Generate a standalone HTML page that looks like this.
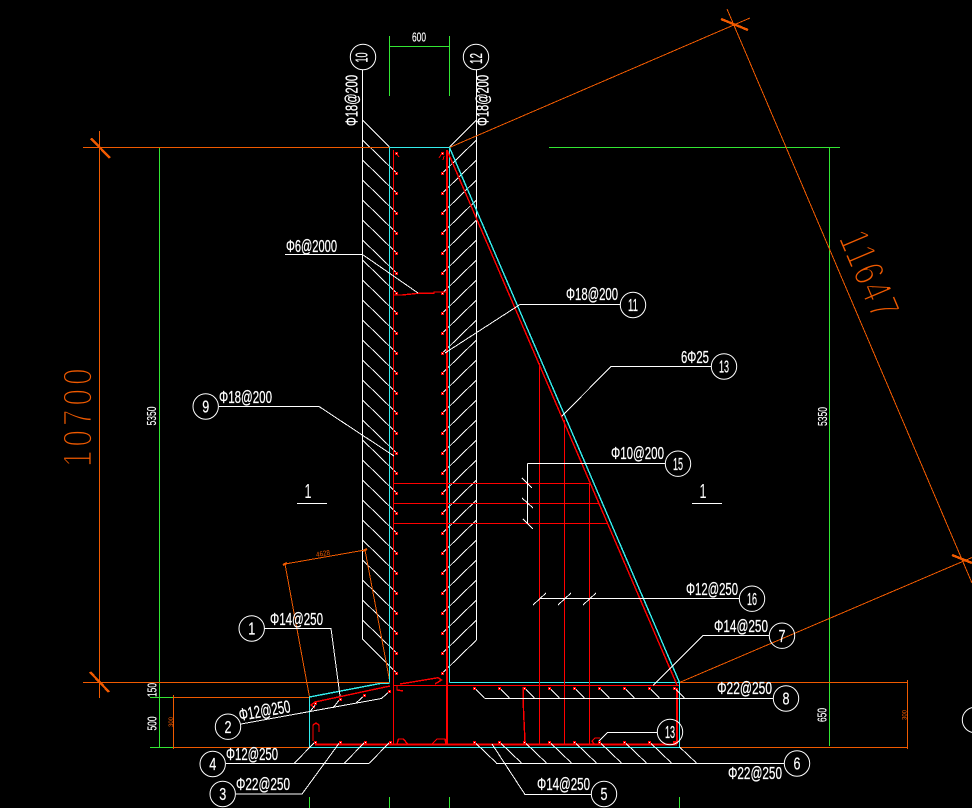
<!DOCTYPE html>
<html><head><meta charset="utf-8">
<style>
html,body{margin:0;padding:0;background:#000;width:972px;height:808px;overflow:hidden}
svg{display:block;position:absolute;left:0;top:0}
.g{fill:none;shape-rendering:crispEdges}
text{font-family:"Liberation Sans",sans-serif;fill:#fff;stroke:none}
.n{font-size:17.5px;stroke:#fff;stroke-width:.25px}
.d{font-size:17.5px;text-anchor:middle;stroke:#fff;stroke-width:.2px}
.s{font-size:13px;stroke:#fff;stroke-width:.15px}
.o{fill:#f05a00}
</style></head><body>
<svg width="972" height="808" viewBox="0 0 972 808" xmlns="http://www.w3.org/2000/svg">
<rect width="972" height="808" fill="#000"/>

<!-- green dimension lines -->
<path class="g" stroke="#33e633" d="M389.5 36V96M449.5 36V96M389.5 46.5H449.5M159.5 148V747M150 697.5H173M150 747.5H173M549 147.5H840M829.5 147.5V746M309.5 797V808M389.5 797V808M449.5 797V808M679.5 797V808"/>

<!-- white walls -->
<path class="g" stroke="#fff" d="M362.5 70V639M476.5 70V640"/>
<!-- hatch left -->
<path class="g" stroke="#fff" d="M362.5 120L389.5 147M362.5 140l34 33M362.5 160l34 33M362.5 180l34 33M362.5 200l34 33M362.5 220l34 33M362.5 240l34 33M362.5 260l34 33M362.5 280l34 33M362.5 300l34 33M362.5 320l34 33M362.5 340l34 33M362.5 360l34 33M362.5 380l34 33M362.5 400l34 33M362.5 420l34 33M362.5 440l34 33M362.5 460l34 33M362.5 480l34 33M362.5 500l34 33M362.5 520l34 33M362.5 540l34 33M362.5 560l34 33M362.5 580l34 33M362.5 600l34 33M362.5 620l34 33M362.5 639l34 34"/>
<!-- hatch right -->
<path class="g" stroke="#fff" d="M476.5 120L449.5 147M476.5 140l-34 33M476.5 160l-34 33M476.5 180l-34 33M476.5 200l-34 33M476.5 220l-34 33M476.5 240l-34 33M476.5 260l-34 33M476.5 280l-34 33M476.5 300l-34 33M476.5 320l-34 33M476.5 340l-34 33M476.5 360l-34 33M476.5 380l-34 33M476.5 400l-34 33M476.5 420l-34 33M476.5 440l-34 33M476.5 460l-34 33M476.5 480l-34 33M476.5 500l-34 33M476.5 520l-34 33M476.5 540l-34 33M476.5 560l-34 33M476.5 580l-34 33M476.5 600l-34 33M476.5 620l-34 33M476.5 640l-34 33"/>

<!-- orange -->
<path class="g" stroke="#f05a00" d="M83 147.5H389.5M99.5 131V698M83 682.5H389.5M679 682.5H907.5M173 697.5H309.5M173 747.5H309.5M679.5 747.5H907.5M907.5 680V749M173.5 695V749M449.5 147.5L750 18M679.5 682.5L972 557.5M727 9L972 583M285 564L365 550M285 564L309.5 697M365 550L389.5 680"/>
<path class="g" stroke="#f05a00" stroke-width="2.4" d="M91 138.5L110 158M90 672L109 692M721 19L748 30M952 555L972 563M283 565l4-2M363 551l4-2"/>

<!-- cyan -->
<path class="g" stroke="#33eeee" d="M389.5 147.5H449.5M389.5 147.5V682.5M449.5 147.5V682.5M449.5 682.5H679.5M679.5 682.5V747.5M309.5 747.5H679.5M309.5 747.5V696.5"/>
<path class="g" stroke="#33eeee" stroke-width="1.4" d="M449.5 147.5L679.5 682.5M309.5 697L380 683.5H389.5"/>

<!-- red -->
<path class="g" stroke="#ff0000" d="M393.5 150V745M393.5 483.5H589.5M393.5 503.5H599M393.5 523.5H608M446 685.5H679M393.5 685.5H446M539.5 363V744M589.5 483V744M564.5 420V744"/>
<path class="g" stroke="#ff0000" stroke-width="2" d="M447 150V745M315 744.5H677M677 688V744"/>
<path class="g" stroke="#ff0000" stroke-width="1.4" d="M447 150L677 685M315 702L390 686M400 684L438 677.7L441.5 680L435 684M315 702L311 705L315 708M523 687L523.5 710L525 742M393 295H402L418 293.3H434V292H446M313 741V725L316 723L319 725V732M397 744L398.5 739H403.5L407.5 744M432 744L437 739H445L446 744M397 686V690L403 691M594 744L592 741L595 738H600"/>

<!-- white leaders -->
<path class="g" stroke="#fff" d="M226 763.5H369M294 763.5L315 742M344 763.5L365 742M369 763.5L390 742M236 794H302L340 742M241 724L381.5 698.5L390 691M310 711.5L316 704M333 708L340 699M356 703L365 695M264.5 628.5H331L340 696M219 406.5H319L394 456M285 254.5H362.5L418 293M445 353L520 304.5H620M561.5 416.5L611 366.5H711.5M527.5 463.5H665M527.5 463.5V523M522 478L532 488M522 498L533 508M523 519L533 529M540 598.5H739M533 605L546 593M558 605L571 593M583 605L596 593M653 685.5L703 635.5H769M484.5 698.5H773M496 763.5H784M492 744L525 794.5H591M598 742L607.5 732.5H657M297 503.5H327M692 503.5H722"/>
<path class="g" stroke="#fff" d="M474.5 688l10 10M499.5 688l10 10M524.5 688l10 10M549.5 688l10 10M574.5 688l10 10M599.5 688l10 10M624.5 688l10 10M649.5 688l10 10M674.5 688l10 10M474.5 742l22 21M499.5 742l22 21M524.5 742l22 21M549.5 742l22 21M574.5 742l22 21M599.5 742l22 21M624.5 742l22 21M649.5 742l22 21M679.5 747l17 16"/>

<!-- dots -->
<g class="g">
<path stroke="#ff0000" stroke-width="1" d="M396 153l3 4M442 153l-3 5M444 156l-1 4"/>
<path stroke="#ff0000" stroke-width="3" stroke-dasharray="3 17" d="M396.5 152V675M442.5 152V675"/>
<path stroke="#fff" stroke-width="1" stroke-dasharray="1 19" d="M396.5 153V675M442.5 153V675"/>
<path stroke="#ff0000" stroke-width="3" stroke-dasharray="3 22" d="M473 688.5H676M314 742.5H392M473 742.5H651"/>
<path stroke="#fff" stroke-width="1" stroke-dasharray="1 24" d="M474 688.5H676M315 742.5H392M474 742.5H651"/>
<path stroke="#ff0000" stroke-width="3" d="M314 703.5h3M339 699.5h3M363 695.5h3M388 691.5h3"/>
<path stroke="#fff" stroke-width="1" d="M315 703.5h1M340 699.5h1M364 695.5h1M389 691.5h1"/>
<path stroke="#ff0000" stroke-width="3" d="M673 742.5h3"/>
</g>

<!-- circles -->
<g class="g" stroke="#fff" style="shape-rendering:auto">
<circle cx="363" cy="57" r="12.7"/><circle cx="476" cy="57" r="12.7"/>
<circle cx="633" cy="305" r="12.7"/><circle cx="724" cy="366.5" r="12.7"/>
<circle cx="205.7" cy="406.5" r="12.7"/><circle cx="678" cy="463.7" r="12.7"/>
<circle cx="752" cy="598.7" r="12.7"/><circle cx="782" cy="635.7" r="12.7"/>
<circle cx="786" cy="698.5" r="12.7"/><circle cx="797" cy="763.5" r="12.7"/>
<circle cx="251.7" cy="628.5" r="12.7"/><circle cx="228" cy="726.7" r="12.7"/>
<circle cx="212.7" cy="764" r="12.7"/><circle cx="222.7" cy="794" r="12.7"/>
<circle cx="604" cy="794" r="12.7"/><circle cx="670" cy="732" r="12.7"/>
<circle cx="975" cy="720" r="12.7"/>
</g>

<!-- circle labels -->
<text class="d" transform="translate(367.5,57.5) rotate(-90)" textLength="10" lengthAdjust="spacingAndGlyphs">10</text>
<text class="d" transform="translate(482,58.5) rotate(-90)" textLength="11" lengthAdjust="spacingAndGlyphs">12</text>
<text class="d" x="633" y="311" textLength="10" lengthAdjust="spacingAndGlyphs">11</text>
<text class="d" x="724" y="372.5" textLength="10" lengthAdjust="spacingAndGlyphs">13</text>
<text class="d" x="205.7" y="412.5" textLength="7" lengthAdjust="spacingAndGlyphs">9</text>
<text class="d" x="678" y="470" textLength="10" lengthAdjust="spacingAndGlyphs">15</text>
<text class="d" x="752" y="605" textLength="10" lengthAdjust="spacingAndGlyphs">16</text>
<text class="d" x="782" y="642" textLength="7" lengthAdjust="spacingAndGlyphs">7</text>
<text class="d" x="786" y="704.5" textLength="7" lengthAdjust="spacingAndGlyphs">8</text>
<text class="d" x="797" y="769.5" textLength="7" lengthAdjust="spacingAndGlyphs">6</text>
<text class="d" x="251.7" y="634.5" textLength="7" lengthAdjust="spacingAndGlyphs">1</text>
<text class="d" x="228" y="733" textLength="7" lengthAdjust="spacingAndGlyphs">2</text>
<text class="d" x="212.7" y="770" textLength="7" lengthAdjust="spacingAndGlyphs">4</text>
<text class="d" x="222.7" y="800" textLength="7" lengthAdjust="spacingAndGlyphs">3</text>
<text class="d" x="604" y="800" textLength="7" lengthAdjust="spacingAndGlyphs">5</text>
<text class="d" x="670" y="738" textLength="10" lengthAdjust="spacingAndGlyphs">13</text>

<!-- rebar labels -->
<text class="n" x="270" y="625" textLength="53" lengthAdjust="spacingAndGlyphs">Φ14@250</text>
<text class="n" x="226" y="760" textLength="52" lengthAdjust="spacingAndGlyphs">Φ12@250</text>
<text class="n" x="236" y="790" textLength="54" lengthAdjust="spacingAndGlyphs">Φ22@250</text>
<text class="n" x="537" y="790" textLength="53" lengthAdjust="spacingAndGlyphs">Φ14@250</text>
<text class="n" x="728" y="779" textLength="54" lengthAdjust="spacingAndGlyphs">Φ22@250</text>
<text class="n" x="717" y="694" textLength="55" lengthAdjust="spacingAndGlyphs">Φ22@250</text>
<text class="n" x="714" y="632" textLength="54" lengthAdjust="spacingAndGlyphs">Φ14@250</text>
<text class="n" x="686" y="595" textLength="52" lengthAdjust="spacingAndGlyphs">Φ12@250</text>
<text class="n" x="611" y="459" textLength="53" lengthAdjust="spacingAndGlyphs">Φ10@200</text>
<text class="n" x="681" y="363" textLength="28" lengthAdjust="spacingAndGlyphs">6Φ25</text>
<text class="n" x="566" y="300" textLength="52" lengthAdjust="spacingAndGlyphs">Φ18@200</text>
<text class="n" x="286" y="252" textLength="51" lengthAdjust="spacingAndGlyphs">Φ6@2000</text>
<text class="n" x="219" y="403" textLength="53" lengthAdjust="spacingAndGlyphs">Φ18@200</text>
<text class="n" transform="translate(357.5,126) rotate(-90)" textLength="51" lengthAdjust="spacingAndGlyphs">Φ18@200</text>
<text class="n" transform="translate(488.5,126) rotate(-90)" textLength="51" lengthAdjust="spacingAndGlyphs">Φ18@200</text>
<text class="n" transform="translate(240,721) rotate(-10)" textLength="52" lengthAdjust="spacingAndGlyphs">Φ12@250</text>

<!-- dimension text -->
<text class="s" x="412" y="41.5" textLength="14" lengthAdjust="spacingAndGlyphs">600</text>
<text class="s" transform="translate(156,425.5) rotate(-90)" textLength="19" lengthAdjust="spacingAndGlyphs">5350</text>
<text class="s" transform="translate(827,426) rotate(-90)" textLength="19" lengthAdjust="spacingAndGlyphs">5350</text>
<text class="s" transform="translate(156.5,697) rotate(-90)" textLength="14" lengthAdjust="spacingAndGlyphs">150</text>
<text class="s" transform="translate(156.5,730.5) rotate(-90)" textLength="14" lengthAdjust="spacingAndGlyphs">500</text>
<text class="s" transform="translate(826.5,722) rotate(-90)" textLength="14" lengthAdjust="spacingAndGlyphs">650</text>
<text class="o" style="font-size:6px" transform="translate(906.5,720) rotate(-90)" textLength="10" lengthAdjust="spacingAndGlyphs">300</text>
<text class="o" style="font-size:6px" transform="translate(173,727) rotate(-90)" textLength="10" lengthAdjust="spacingAndGlyphs">300</text>
<text class="o" style="font-size:7px" transform="translate(316.5,557) rotate(-10)" textLength="14" lengthAdjust="spacingAndGlyphs">4628</text>

<text style="font-size:20px;text-anchor:middle" x="308" y="498" textLength="7" lengthAdjust="spacingAndGlyphs">1</text>
<text style="font-size:20px;text-anchor:middle" x="703" y="498" textLength="7" lengthAdjust="spacingAndGlyphs">1</text>

<!-- large orange dimension text: narrow glyphs, thinned by a black overlay stroke -->
<text class="o" style="font-size:41px;letter-spacing:5.7px;stroke:#000;stroke-width:1.8px" transform="translate(91.5,467) rotate(-90) scale(.72,1)">10700</text>
<text class="o" style="font-size:43px;letter-spacing:2.5px;stroke:#000;stroke-width:1.8px" transform="translate(838,238) rotate(67) scale(.72,1)">11647</text>
</svg>
</body></html>
